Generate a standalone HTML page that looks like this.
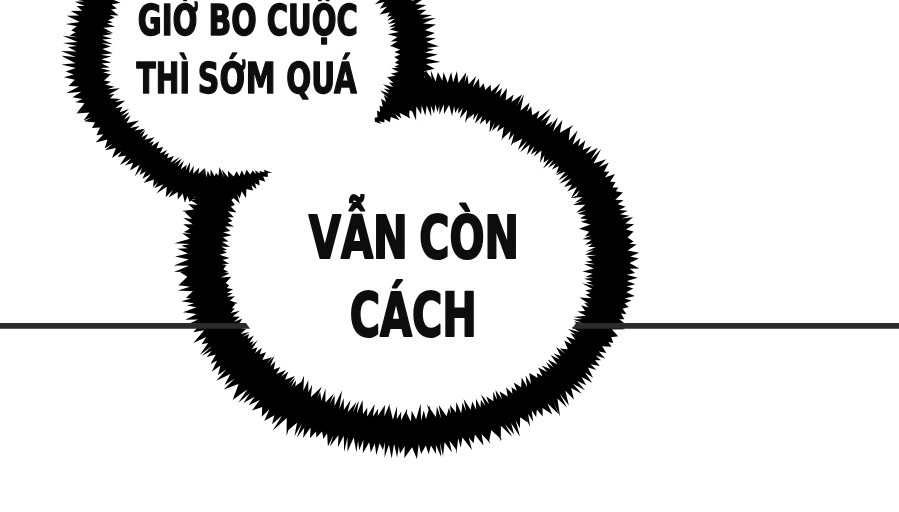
<!DOCTYPE html>
<html lang="vi"><head><meta charset="utf-8"><title>page</title>
<style>
html,body{margin:0;padding:0;background:#fff;}
body{width:899px;height:512px;overflow:hidden;position:relative;}
svg{position:absolute;left:0;top:0;display:block;}
text{font-family:"DejaVu Sans Condensed","DejaVu Sans","Liberation Sans",sans-serif;font-weight:bold;fill:#0d0d0d;stroke:#0d0d0d;stroke-linejoin:round;}
</style></head><body>
<svg width="899" height="512" viewBox="0 0 899 512">
<defs><filter id="soft" x="-5%" y="-5%" width="110%" height="110%"><feGaussianBlur stdDeviation="0.6"/></filter>
<filter id="soft2" x="-5%" y="-5%" width="110%" height="110%"><feGaussianBlur stdDeviation="0.35"/></filter></defs>
<g fill="#000" filter="url(#soft)">
<path d="M88.0,-13.6 73.4,-11.9 88.1,-8.1 75.4,-10.2 87.7,-3.9 70.3,-1.2 84.5,1.3 74.7,1.7 84.7,5.9 76.6,5.9 82.1,10.8 70.7,10.9 79.1,15.5 66.9,15.8 79.8,21.9 65.6,24.1 76.8,26.2 71.2,30.4 75.8,32.3 69.6,35.4 78.1,37.4 62.6,35.8 77.6,41.9 63.0,43.0 77.0,46.1 67.9,46.9 76.4,51.4 61.1,50.9 75.9,56.9 61.4,55.8 75.4,63.3 61.4,64.6 75.8,68.0 65.7,71.6 73.7,74.5 63.9,77.2 74.8,79.7 68.5,85.9 79.0,86.4 66.0,93.3 81.3,91.7 72.5,97.3 82.4,99.0 75.3,102.3 84.5,103.3 76.9,112.9 88.7,107.7 76.2,113.5 89.5,112.5 83.4,120.4 91.8,117.0 84.2,121.3 95.1,122.4 92.0,128.1 100.0,127.6 96.5,135.2 103.5,134.2 95.6,142.5 107.5,139.5 104.8,148.6 112.8,143.6 105.0,150.2 115.9,148.1 112.0,158.0 121.7,151.3 117.7,156.9 126.2,155.4 120.0,164.9 131.0,158.6 124.9,165.5 133.2,162.7 130.0,170.4 139.6,164.7 134.7,176.6 142.0,168.0 139.6,175.0 145.6,171.5 142.4,178.8 150.9,174.1 143.7,183.1 153.9,179.5 153.0,186.9 158.3,181.8 154.2,188.3 163.5,184.3 156.4,193.6 166.8,186.8 165.7,197.3 172.9,189.9 168.6,197.4 177.7,192.0 177.7,199.6 182.7,193.5 184.8,202.8 187.5,196.0 189.6,202.1 195.0,196.4 198.2,208.8 200.8,198.3 202.5,208.5 207.0,197.8 210.9,210.4 214.8,198.3 217.1,209.7 221.7,198.4 229.1,208.1 227.3,198.3 229.2,204.6 231.2,196.0 239.8,203.6 237.1,194.3 239.7,198.6 241.6,191.3 246.0,198.1 246.4,188.9 253.1,190.5 251.4,185.2 256.4,189.1 255.0,183.3 259.6,185.6 259.1,179.8 265.3,181.8 263.1,176.4 267.8,176.9 267.7,172.8 272.5,173.0 263.9,169.7 264.6,172.3 259.5,171.0 259.9,173.4 255.2,170.3 255.9,174.1 252.6,170.4 250.3,174.6 246.6,169.8 244.3,175.4 241.7,170.2 239.5,176.3 236.6,171.3 233.7,176.6 227.8,170.7 228.3,177.4 221.8,169.6 223.9,177.4 219.5,167.1 218.4,175.7 216.1,173.1 214.5,176.3 210.7,169.2 210.3,176.4 207.8,170.8 206.3,177.2 205.0,167.9 202.4,176.6 204.7,167.9 198.3,173.9 199.3,167.6 193.1,173.8 193.7,165.4 189.2,173.2 190.2,161.9 185.9,170.1 186.7,164.8 180.7,169.3 183.9,160.5 177.4,166.7 181.8,158.6 173.9,163.8 179.8,157.1 170.5,162.4 173.9,156.1 167.0,158.3 168.9,152.9 163.9,155.0 167.1,149.9 159.9,153.5 163.2,146.9 156.6,148.4 159.0,141.2 151.3,146.2 154.0,141.3 149.1,143.0 154.6,137.2 144.7,139.8 148.1,133.7 141.7,137.2 145.3,129.9 139.2,134.7 144.8,128.8 134.5,130.6 139.8,126.0 129.9,127.9 139.1,120.5 126.6,122.9 130.6,115.5 123.8,119.8 129.4,112.2 121.2,116.0 129.0,109.0 119.6,112.2 122.6,106.8 115.1,108.3 125.3,100.6 114.9,102.1 120.6,99.0 110.0,98.2 114.5,94.1 108.3,94.7 119.9,88.3 107.4,89.3 114.5,86.7 105.5,84.8 110.8,81.8 104.1,80.5 109.6,75.4 103.4,77.0 111.6,74.7 103.0,72.3 111.1,71.0 100.4,67.9 109.9,67.6 101.6,63.5 111.5,62.5 101.5,59.2 111.3,56.6 100.9,54.7 112.7,53.3 102.5,49.0 110.7,46.4 101.6,43.1 112.9,44.3 102.3,39.4 112.0,38.7 102.5,35.8 112.3,33.9 104.4,31.5 113.3,33.2 103.4,27.8 115.1,26.8 107.0,23.6 113.0,22.4 108.0,20.3 114.8,17.6 109.6,15.1 118.6,15.4 111.2,9.4 116.9,8.4 111.6,4.4 120.5,2.7 111.9,-0.7 119.1,-3.8 113.3,-6.7 120.3,-7.8 115.1,-10.3Z"/>
<path d="M377.2,-5.3 374.3,-0.2 381.6,-1.5 374.8,4.2 384.5,2.1 379.8,8.8 387.0,6.4 379.7,14.5 390.1,12.3 387.0,16.8 391.9,15.7 387.2,20.6 395.2,18.5 387.9,23.9 396.2,22.5 389.1,27.2 395.7,26.5 389.9,29.4 399.0,31.9 387.6,34.3 397.5,37.1 390.7,41.5 397.7,41.3 389.6,46.2 398.2,45.1 390.9,46.0 400.2,49.7 394.3,51.9 400.3,54.5 394.1,56.9 398.7,60.1 394.7,62.8 399.2,64.4 394.3,66.7 398.5,68.1 391.4,68.1 398.5,72.0 390.8,73.5 395.6,75.8 386.9,77.3 396.9,80.2 387.3,77.2 393.4,82.9 388.9,82.6 393.0,87.0 382.9,84.2 390.2,89.9 383.7,88.6 389.3,93.5 380.2,90.6 388.7,98.5 383.7,95.0 386.1,101.7 381.1,98.7 382.8,106.7 379.6,105.8 380.1,111.9 377.0,110.4 377.5,117.3 374.7,117.7 374.9,121.7 381.4,124.1 379.0,121.2 384.3,122.5 384.6,118.9 389.9,122.3 390.8,117.0 399.6,120.3 395.0,114.2 401.5,118.5 399.4,112.7 410.1,118.3 407.6,109.6 415.3,112.5 411.2,103.6 426.7,105.2 415.0,99.2 427.7,104.1 417.5,93.2 432.1,95.7 419.7,88.5 436.0,85.8 422.2,82.6 434.2,83.9 423.4,76.6 432.0,77.9 424.0,71.2 434.6,68.7 426.0,64.0 440.4,62.0 425.6,58.3 437.8,54.6 425.0,52.5 434.3,49.6 426.5,47.9 438.9,46.3 426.4,42.0 435.9,38.2 425.2,37.3 434.9,32.9 425.1,30.3 436.0,24.6 423.0,23.6 435.8,18.0 421.9,18.8 432.1,14.9 419.9,14.4 426.5,9.8 416.7,9.7 426.3,5.0 415.3,4.2 426.4,-2.9 411.0,1.1 422.6,-6.9 409.0,-3.1 414.3,-10.1 407.1,-9.2 414.5,-15.6 402.2,-14.2 405.1,-22.0 398.2,-18.3Z"/>
<path d="M405.1,107.9 408.6,118.2 410.2,107.0 416.1,120.4 416.3,106.4 421.1,114.6 421.7,105.3 425.3,115.8 426.7,105.8 431.3,116.5 430.8,105.4 434.1,113.6 435.5,104.3 437.4,112.3 439.3,105.6 439.4,114.6 443.9,104.2 443.9,114.2 449.1,105.0 452.1,116.1 454.1,106.0 455.3,112.9 458.4,107.2 458.2,113.8 462.8,107.9 459.8,118.6 467.3,109.7 465.0,122.9 471.0,112.8 468.1,118.6 474.3,113.8 472.9,120.3 478.3,112.7 474.8,123.6 482.3,116.3 479.7,124.3 485.4,119.3 486.3,124.5 490.2,119.7 489.6,132.6 494.9,122.3 492.0,130.8 499.8,124.3 496.9,131.7 503.8,127.1 501.5,140.6 507.4,129.6 501.9,138.9 510.7,130.9 508.4,140.7 514.0,133.7 510.8,146.1 517.3,137.6 513.2,143.2 522.3,138.8 517.8,150.0 527.1,140.9 520.2,152.2 529.8,144.5 526.9,155.0 534.4,146.1 530.9,154.5 537.0,150.5 533.8,156.6 541.5,150.6 540.0,163.0 544.4,155.0 543.6,162.8 548.9,159.1 543.1,168.6 553.5,159.7 548.2,167.7 555.8,163.3 552.0,169.6 558.9,166.0 556.3,173.5 561.4,170.3 555.6,175.4 565.5,171.5 558.6,180.3 568.5,174.7 559.3,183.8 571.0,178.7 564.0,187.0 572.1,184.5 567.3,191.4 576.9,187.0 570.8,198.6 579.7,190.2 574.7,198.9 581.4,193.5 571.1,197.9 582.4,197.1 574.8,202.7 583.0,200.4 572.7,205.1 585.3,204.7 576.2,212.7 587.0,209.8 577.6,214.0 585.7,215.0 580.1,218.3 587.5,219.6 580.9,221.7 590.4,224.6 579.1,228.8 589.2,231.7 584.9,236.6 591.1,235.5 582.6,239.2 591.7,239.8 584.9,244.7 592.5,243.5 588.1,247.0 595.7,247.0 585.4,251.8 593.8,250.0 585.1,254.8 596.6,255.0 587.1,256.6 592.5,260.4 585.2,261.8 595.0,264.3 584.0,264.0 593.7,268.4 582.5,271.5 592.6,273.7 585.4,276.9 593.5,277.7 584.0,278.8 592.5,281.5 586.0,282.4 594.5,286.1 582.0,283.2 592.4,289.1 585.3,290.3 590.5,293.3 585.6,294.5 591.5,298.2 579.6,297.6 588.3,303.6 584.0,302.8 588.7,307.5 581.0,305.2 585.2,311.1 577.4,311.5 585.9,315.8 573.5,316.9 582.5,319.0 573.1,319.5 582.3,322.8 574.2,321.6 581.0,327.4 571.6,327.2 579.7,332.0 567.9,329.0 575.7,334.8 570.4,333.0 575.5,339.7 565.9,336.4 571.9,344.2 564.2,340.4 567.8,349.2 559.9,348.4 565.4,353.7 556.1,347.0 560.8,356.0 553.5,353.2 559.6,359.5 550.7,355.1 557.4,364.5 547.7,359.6 553.3,367.3 545.9,361.9 550.2,369.1 541.5,365.6 547.4,372.1 538.1,367.4 542.5,376.2 536.6,373.0 537.8,378.0 528.9,372.8 533.5,380.4 529.3,373.0 530.9,383.9 525.5,375.2 527.1,387.1 521.7,377.5 521.1,387.2 513.7,382.5 516.9,390.7 511.5,387.2 512.4,393.8 506.1,387.2 507.7,396.4 499.6,391.6 501.9,398.9 495.5,389.9 497.0,399.8 493.1,391.7 493.4,401.2 486.3,396.5 489.2,404.2 481.0,394.2 485.4,406.0 480.9,399.8 480.5,407.6 476.0,398.7 476.1,409.7 472.3,401.4 470.6,409.8 463.7,399.0 466.1,411.7 462.6,402.5 461.2,413.3 456.3,401.9 456.0,412.5 450.0,404.9 451.0,414.6 448.9,407.8 446.6,416.3 438.7,405.0 441.0,418.4 436.9,406.4 435.9,417.1 426.9,404.2 430.8,417.3 429.9,405.6 425.9,419.3 423.8,410.2 421.1,420.7 420.6,403.6 416.1,419.6 411.7,410.7 410.8,421.4 406.8,413.2 405.7,421.6 407.3,408.4 400.9,420.4 401.3,411.6 396.8,419.3 397.1,405.9 392.9,419.7 389.7,406.6 389.0,417.2 389.7,403.7 384.3,416.5 385.0,405.0 377.7,416.0 378.2,408.5 372.8,416.7 374.7,404.0 367.1,416.6 367.3,407.4 363.0,414.1 362.6,400.0 356.8,413.8 358.8,400.6 352.8,412.5 356.3,402.3 347.6,412.2 350.7,399.7 343.9,409.8 343.7,397.9 339.3,409.3 342.0,390.6 334.5,406.0 334.7,395.3 329.5,404.1 333.8,393.6 325.4,402.6 325.5,388.4 321.4,400.7 320.2,391.9 316.8,398.6 321.7,386.8 310.9,397.1 312.2,384.5 308.3,392.2 308.3,380.2 303.3,390.8 304.1,375.5 298.7,388.0 302.7,380.7 295.3,386.2 296.2,380.2 291.2,386.6 295.2,377.7 288.4,384.0 295.0,375.9 285.1,379.7 288.4,371.4 281.3,376.5 285.9,369.9 276.2,373.9 280.4,367.1 273.7,369.4 275.4,361.2 270.1,366.3 274.5,356.1 266.0,364.4 272.3,357.2 262.3,360.1 266.0,352.3 259.8,354.3 261.8,347.7 255.2,353.1 257.4,347.2 251.9,349.2 257.8,339.9 251.3,345.5 253.7,341.0 249.3,342.8 253.9,335.5 247.5,338.9 249.2,333.9 242.7,336.7 249.5,332.0 240.5,333.9 246.1,329.1 240.9,328.3 245.8,323.0 238.4,324.7 242.4,318.5 233.8,322.0 239.8,316.7 232.7,316.6 239.8,310.7 230.6,313.0 234.9,308.4 231.9,308.2 236.9,302.1 230.6,304.4 237.8,303.3 229.9,300.4 235.0,296.2 227.0,296.7 232.8,293.3 226.8,292.9 233.1,289.2 226.9,288.0 229.1,285.6 225.7,282.9 231.3,276.8 220.9,277.4 229.3,273.5 224.0,272.3 228.8,272.2 223.4,269.2 226.4,265.1 221.7,263.9 229.2,263.8 222.8,259.9 229.5,258.0 219.6,254.8 227.1,252.5 222.7,250.4 227.2,250.0 221.3,246.5 230.1,246.9 222.1,241.7 228.5,241.4 223.0,237.3 231.8,235.2 223.0,232.3 230.2,231.1 225.2,226.5 234.0,226.6 227.6,222.7 232.5,221.0 227.8,217.3 233.9,217.2 227.9,211.2 236.5,212.4 230.8,206.4 234.9,204.9 231.4,200.0 234.7,197.3 231.8,195.1 189.0,188.6 200.0,192.2 189.4,193.8 199.9,196.6 189.7,197.9 196.2,199.9 188.8,198.9 198.2,205.1 188.3,203.9 193.9,209.5 182.1,211.1 192.3,213.6 183.3,210.6 191.8,219.0 183.3,217.8 192.8,224.2 183.2,224.3 189.8,228.8 183.8,231.9 191.5,234.0 182.1,233.2 189.9,238.7 174.3,243.2 190.3,244.1 181.3,245.8 187.9,248.2 177.4,248.7 188.0,253.4 175.1,256.4 188.8,259.4 173.8,265.4 188.9,265.7 173.9,272.0 187.1,271.6 179.9,272.1 187.3,276.7 178.4,285.4 191.0,282.4 179.0,285.2 190.1,286.8 177.6,290.4 192.8,291.2 185.9,297.9 191.1,298.6 181.3,301.3 193.9,303.2 186.9,305.4 196.4,307.2 183.0,312.2 196.5,314.1 185.4,319.8 198.3,319.5 185.4,325.2 198.6,326.6 193.1,332.2 204.2,330.3 193.3,343.1 206.3,337.1 201.6,344.3 208.1,342.9 200.0,354.8 212.0,346.0 201.8,355.7 211.8,350.7 206.6,357.0 215.8,354.4 210.5,364.1 217.1,360.5 211.8,371.7 220.4,365.4 218.0,374.9 226.3,369.4 216.3,380.8 230.4,374.0 224.6,385.0 234.5,378.8 223.8,389.5 238.6,384.1 232.5,400.4 243.1,387.1 233.2,399.5 247.2,389.4 238.3,402.8 249.9,393.2 243.4,403.0 254.6,396.8 248.6,405.2 259.8,400.1 252.0,410.4 262.2,406.9 261.8,416.8 269.5,409.1 264.3,421.0 274.4,415.2 272.0,424.2 281.9,415.7 272.6,430.7 286.7,418.1 286.6,436.1 291.6,419.7 286.4,431.7 297.0,422.7 294.5,436.2 301.8,423.5 296.9,437.6 304.3,427.8 303.1,438.0 310.6,427.5 310.0,438.3 316.0,431.4 316.4,437.6 322.0,431.4 323.5,439.0 327.1,433.3 327.9,446.4 333.6,434.8 329.8,446.5 338.5,435.2 337.9,447.3 343.8,435.7 344.1,452.1 347.5,437.2 347.5,451.4 353.7,437.5 356.4,452.2 358.1,440.5 359.2,450.2 363.4,439.7 362.8,453.2 369.2,442.2 370.8,452.4 374.8,443.4 376.3,455.3 379.6,443.3 383.0,449.9 384.9,442.0 384.6,457.5 388.9,444.8 391.7,458.6 394.1,443.8 397.1,457.6 398.8,446.2 400.0,453.8 404.7,446.2 404.4,457.9 412.1,447.2 416.9,458.9 418.8,444.2 421.1,454.1 425.8,445.4 428.7,454.2 430.9,445.5 436.0,454.0 435.9,444.9 441.3,456.9 440.0,442.4 443.0,455.9 444.6,442.3 451.9,452.6 449.4,440.4 456.7,450.6 454.7,439.1 456.3,454.0 458.2,438.2 460.7,447.7 462.4,437.5 472.0,449.9 468.7,437.6 473.6,443.2 474.9,434.4 483.5,445.5 481.6,433.9 490.3,443.6 486.2,431.9 489.3,440.5 491.3,430.2 502.0,440.1 496.5,428.9 500.8,441.5 500.9,425.7 512.3,437.0 504.9,424.0 514.1,434.6 511.1,423.1 520.0,436.7 515.6,420.1 519.9,428.4 520.2,417.2 527.8,422.5 524.0,413.7 530.2,427.2 528.1,413.8 533.2,421.8 531.6,410.3 536.2,417.1 536.8,409.6 542.7,416.4 542.5,408.0 552.4,414.6 547.5,403.5 558.5,414.1 552.3,399.3 560.1,416.4 557.4,398.5 567.0,407.6 559.7,393.8 568.9,405.4 565.3,390.8 574.0,399.6 571.1,388.0 581.7,393.7 573.0,383.8 585.0,390.3 577.1,380.9 586.2,385.2 581.6,377.1 592.2,382.8 584.9,372.4 593.0,377.8 587.9,367.5 596.5,370.0 590.7,364.2 599.9,366.0 595.0,360.2 600.9,360.2 595.7,355.6 605.2,358.4 598.8,351.4 606.4,352.9 602.1,346.3 611.6,346.8 608.3,342.1 613.3,343.0 611.2,337.3 618.1,336.2 612.0,329.4 625.0,329.3 616.0,324.3 624.5,323.3 619.2,319.3 624.4,319.3 621.0,313.6 626.6,314.2 622.6,308.8 628.8,306.9 624.6,303.5 631.4,300.6 624.5,298.5 634.8,295.9 626.4,292.3 633.3,288.6 626.7,286.3 635.4,284.2 626.9,281.0 637.8,277.7 626.7,274.8 635.0,273.0 629.8,268.7 639.4,268.6 629.5,263.1 638.8,258.5 630.4,256.5 639.2,252.8 627.6,250.4 636.6,244.5 629.6,243.8 633.6,241.5 627.6,237.6 633.5,231.6 626.0,229.5 634.2,224.2 625.3,223.6 633.0,217.2 621.8,218.5 629.5,215.8 620.0,214.2 627.9,210.7 619.0,209.9 625.6,206.8 617.7,204.2 623.6,200.2 615.3,199.7 622.9,192.4 615.9,191.2 618.3,187.6 612.4,187.5 615.5,182.0 610.2,181.8 615.0,174.0 604.8,177.4 609.4,171.4 604.0,171.7 608.7,162.8 599.0,167.0 606.2,159.3 593.6,163.5 601.2,149.1 590.8,159.4 597.9,147.8 585.6,153.9 591.7,146.0 582.6,149.9 585.4,140.3 578.1,146.2 580.5,138.1 572.6,144.7 577.7,130.2 568.7,140.6 570.4,126.8 563.5,137.5 573.4,125.1 559.8,132.8 562.4,120.1 553.1,131.2 557.9,117.2 549.5,127.3 552.8,121.3 545.4,125.6 551.3,114.0 541.2,121.3 550.2,108.5 536.7,119.0 539.7,110.4 532.2,115.2 531.2,106.6 526.9,111.7 529.7,102.4 520.5,110.8 523.9,94.4 517.0,106.0 522.0,94.4 511.4,102.0 513.8,94.4 505.7,100.5 507.0,88.1 499.9,97.3 501.9,87.9 495.1,93.9 500.4,83.3 491.1,91.5 490.6,84.7 485.3,90.0 483.6,83.2 479.7,88.2 478.9,78.4 472.7,87.3 476.2,76.1 468.7,84.3 467.3,74.7 464.5,82.9 466.2,72.2 458.4,83.0 456.9,71.1 453.1,82.6 451.2,72.1 447.7,82.7 443.6,72.2 442.3,80.8 437.9,72.1 435.6,81.5 430.7,70.0 431.6,79.0 425.4,69.7 424.8,80.8 421.2,71.6 418.2,82.4 415.9,74.0 413.4,83.0 412.0,71.8 408.5,83.1 402.4,76.7 404.2,84.6 398.7,77.8 400.8,85.3Z"/>
</g>
<path d="M0,323 L246,323 L250,328.7 L0,328.7Z" fill="#2b2b2b"/>
<path d="M576,323 L899,323 L899,328.7 L572,328.7Z" fill="#2b2b2b"/>
<g filter="url(#soft2)">
<text x="137.79" y="34.9" font-size="42" stroke-width="1.4" textLength="60.22" lengthAdjust="spacingAndGlyphs">GIỜ</text>
<text x="208.41" y="34.9" font-size="42" stroke-width="1.4" textLength="48.26" lengthAdjust="spacingAndGlyphs">BO</text>
<text x="266.77" y="34.9" font-size="42" stroke-width="1.4" textLength="91.05" lengthAdjust="spacingAndGlyphs">CUỘC</text>
<text x="136.6" y="93.2" font-size="42.4" stroke-width="1.4" textLength="53.27" lengthAdjust="spacingAndGlyphs">THÌ</text>
<text x="197.87" y="93.2" font-size="42.4" stroke-width="1.4" textLength="77.66" lengthAdjust="spacingAndGlyphs">SỚM</text>
<text x="286.19" y="93.2" font-size="42.4" stroke-width="1.4" textLength="70.61" lengthAdjust="spacingAndGlyphs">QUÁ</text>
<text x="308.8" y="258" font-size="59" stroke-width="2.0" textLength="99.11" lengthAdjust="spacingAndGlyphs">VẪN</text>
<text x="419.34" y="258" font-size="59" stroke-width="2.0" textLength="99.8" lengthAdjust="spacingAndGlyphs">CÒN</text>
<text x="349.76" y="336.4" font-size="60" stroke-width="2.0" textLength="127.15" lengthAdjust="spacingAndGlyphs">CÁCH</text>
</g>
</svg>
</body></html>
